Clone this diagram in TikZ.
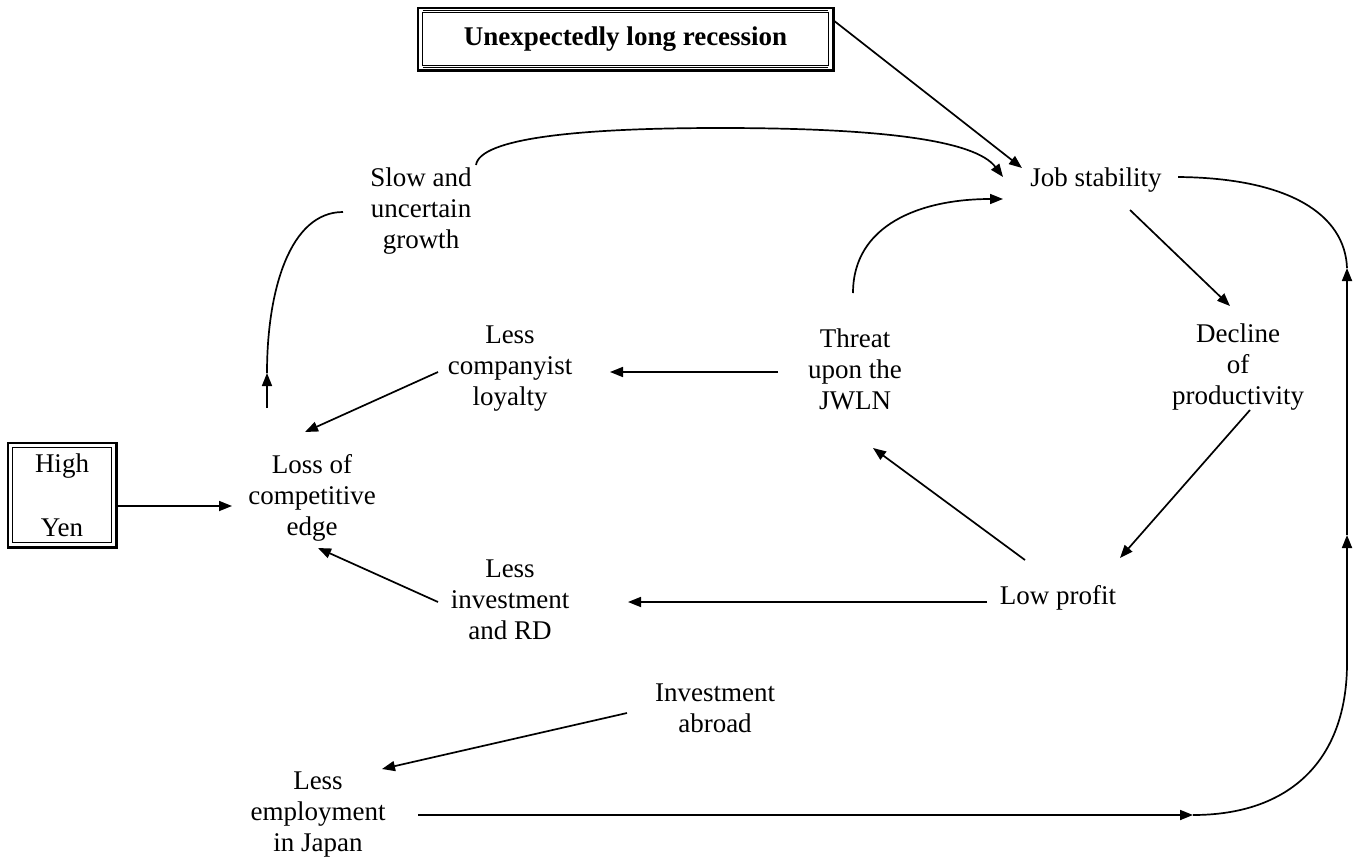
\documentclass[tikz,border=0pt]{standalone}
\usepackage{fontspec}
\setmainfont{Liberation Serif}
\usetikzlibrary{arrows.meta}
\begin{document}
\begin{tikzpicture}[x=1pt,y=-1pt,
  lbl/.style={align=center,inner sep=0pt,font=\fontsize{27}{31}\selectfont},
  conn/.style={line width=1.7pt,-{Triangle[length=13pt,width=10pt]}},
  plain/.style={line width=1.7pt},
  outerline/.style={line width=2.6pt},
  innerline/.style={line width=1.1pt}]
\useasboundingbox (0,0) rectangle (1359,862);

% boxed causes
\node[lbl,font=\bfseries\fontsize{27}{31}\selectfont,minimum width=415pt,minimum height=62pt] (rec) at (625.5,39) {Unexpectedly long recession};
\draw[outerline] (rec.north west) rectangle (rec.south east);
\draw[innerline] ([shift={(5,5)}]rec.north west) rectangle ([shift={(-5,-5)}]rec.south east);
\draw[innerline] ([shift={(5,2.8)}]rec.north west) -- ([shift={(-5,2.8)}]rec.north east);
\draw[innerline] ([shift={(5,-2.8)}]rec.south west) -- ([shift={(-5,-2.8)}]rec.south east);

\node[lbl,minimum width=108pt,minimum height=104pt] (yen) at (62,495) {High\\[33pt]Yen};
\draw[outerline] (yen.north west) rectangle (yen.south east);
\draw[innerline] ([shift={(5,5)}]yen.north west) rectangle ([shift={(-5,-5)}]yen.south east);

% text nodes
\node[lbl] (job) at (1096,180) {Job stability};
\node[lbl] (slow) at (421,211) {Slow and\\uncertain\\growth};
\node[lbl] (lesscomp) at (510,369) {Less\\companyist\\loyalty};
\node[lbl] (threat) at (855,369) {Threat\\upon the\\JWLN};
\node[lbl] (decline) at (1238,367) {Decline\\of\\productivity};
\node[lbl] (loss) at (312,498) {Loss of\\competitive\\edge};
\node[lbl] (lowp) at (1058,598) {Low profit};
\node[lbl] (lessinv) at (510,600) {Less\\investment\\and RD};
\node[lbl] (invab) at (715,708) {Investment\\abroad};
\node[lbl] (lessemp) at (318,815) {Less\\employment\\in Japan};

% points on the outer loop
\coordinate (rtop) at (1347,268);
\coordinate (rmid) at (1347,535);
\coordinate (rlow) at (1347,663);
\coordinate (rbot) at (1193,815);
\coordinate (lup) at (267,373);

% connectors
\draw[conn] ([shift={(207.5,-19)}]rec.center) -- ([shift={(-74,-12)}]job.center);
\draw[conn] ([shift={(55,-46)}]slow.center) .. controls (480,138) and (580,128) .. (720,128)
  .. controls (880,128) and (975,140) .. ([shift={(-93,-3)}]job.center);
\draw[conn] ([shift={(-2,-76)}]threat.center) .. controls (853,225) and (920,199) .. ([shift={(-93,19)}]job.center);
\draw[conn] ([shift={(34,30)}]job.center) -- ([shift={(-8,-61)}]decline.center);
\draw[plain] ([shift={(82,-3)}]job.center) .. controls (1290,178) and (1345,215) .. (rtop);
\draw[conn] (rmid) -- (rtop);
\draw[conn] (rlow) -- (rmid);
\draw[plain] (rbot) .. controls (1290,815) and (1347,760) .. (rlow);
\draw[conn] ([shift={(100,0)}]lessemp.center) -- (rbot);
\draw[conn] ([shift={(12,43)}]decline.center) -- ([shift={(62,-40)}]lowp.center);
\draw[conn] ([shift={(-33,-38)}]lowp.center) -- ([shift={(18,79)}]threat.center);
\draw[conn] ([shift={(-71,4)}]lowp.center) -- ([shift={(118,2)}]lessinv.center);
\draw[conn] ([shift={(-77,3)}]threat.center) -- ([shift={(100,3)}]lesscomp.center);
\draw[conn] ([shift={(-72,3)}]lesscomp.center) -- ([shift={(-7,-66)}]loss.center);
\draw[conn] ([shift={(-72,2)}]lessinv.center) -- ([shift={(6,50)}]loss.center);
\draw[conn] ([shift={(-45,-90)}]loss.center) -- (lup);
\draw[plain] (lup) .. controls (267,290) and (290,212) .. ([shift={(-78,1)}]slow.center);
\draw[conn] ([shift={(56,11)}]yen.center) -- ([shift={(-80,8)}]loss.center);
\draw[conn] ([shift={(-88,5)}]invab.center) -- ([shift={(64,-46)}]lessemp.center);
\end{tikzpicture}
\end{document}
